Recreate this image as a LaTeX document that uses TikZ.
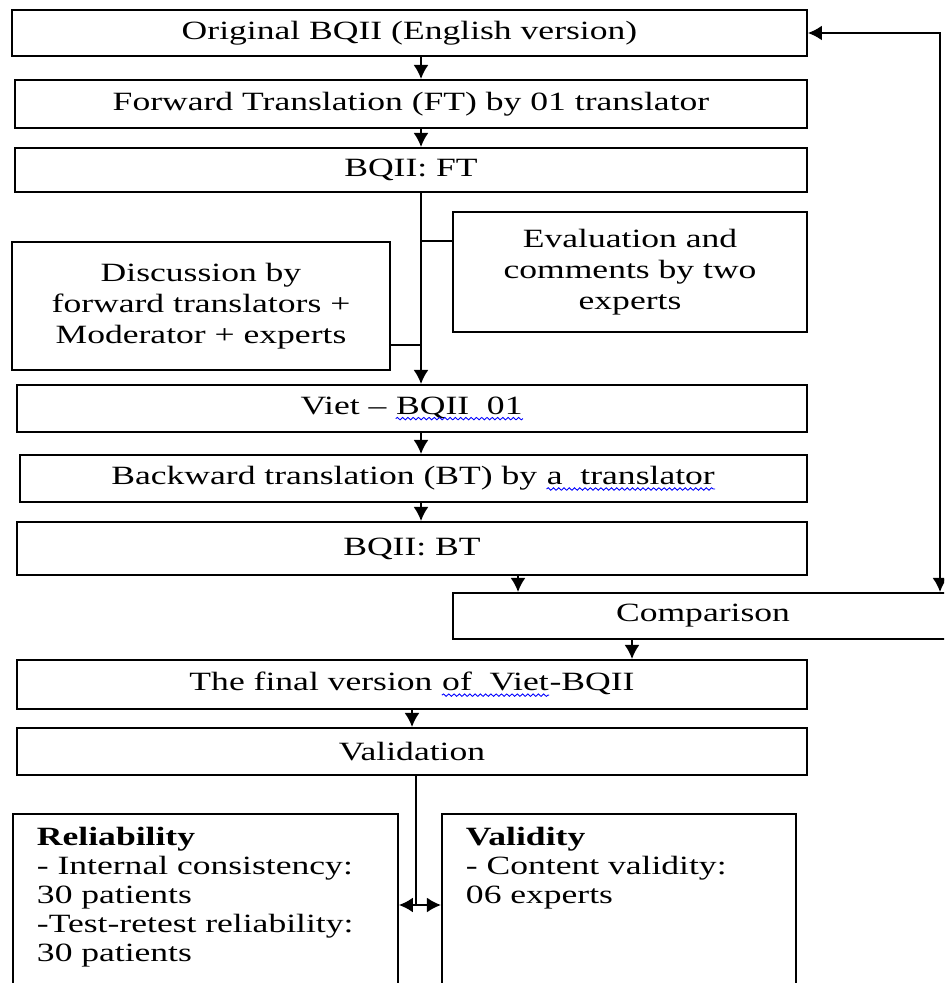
\documentclass[tikz,border=0pt]{standalone}
\usepackage{fontspec}
\setmainfont{Liberation Serif}[FakeStretch=1.35]
\usetikzlibrary{arrows.meta,calc,decorations.pathmorphing}

\begin{document}
\begin{tikzpicture}[>={Latex[length=8pt,width=8.5pt]}, x=0.02cm, y=-0.02cm]
	\tikzstyle{box}=[draw, line width=1.1pt, align=center, inner sep=0pt, font=\fontsize{15}{17.5}\selectfont]
	\tikzstyle{listbox}=[draw, line width=1.1pt, align=left, anchor=north west, inner xsep=0.48cm, inner ysep=0.26cm, text depth=3cm, font=\fontsize{15}{16.5}\selectfont]
	\tikzstyle{link}=[line width=1.1pt]

	\newcommand{\Squiggle}[1]{%
		\tikz [baseline=(sq.base)] {\node (sq) [draw=none, inner sep=0pt, minimum width=0pt, minimum height=0pt] {#1};
			\draw [blue, line width=0.5pt, decorate, decoration={snake, amplitude=0.7pt, segment length=3pt}] ([yshift=-2.5pt]sq.base west) -- ([yshift=-2.5pt]sq.base east);}%
	}

	\useasboundingbox (0,0) rectangle (944,983);
	\clip (0,0) rectangle (944,983);

	\coordinate (col) at (421,0);
	\coordinate (rcol) at (940,0);
	\coordinate (bcol) at (518,0);
	\coordinate (ccol) at (632,0);
	\coordinate (fcol) at (412,0);
	\coordinate (vcol) at (416,905);

	\node (orig) [box, minimum width=15.9cm, minimum height=0.92cm] at (409.5,33) {Original BQII (English version)};
	\node (fwd) [box, minimum width=15.84cm, minimum height=0.96cm] at (411,104) {Forward Translation (FT) by 01 translator};
	\node (ft) [box, minimum width=15.84cm, minimum height=0.88cm] at (411,170) {BQII: FT};

	\node (eval) [box, minimum width=7.08cm, minimum height=2.4cm] at (630,272) {Evaluation and\\comments by two\\experts};
	\node (disc) [box, minimum width=7.56cm, minimum height=2.56cm] at (201,306) {Discussion by\\forward translators +\\Moderator + experts};

	\node (viet) [box, minimum width=15.8cm, minimum height=0.94cm] at (412,408.5) {Viet -- \Squiggle{BQII\ \ 01}};
	\node (back) [box, minimum width=15.74cm, minimum height=0.94cm] at (413.5,478.5) {Backward translation (BT) by \Squiggle{a\ \ translator}};
	\node (bt) [box, minimum width=15.8cm, minimum height=1.06cm] at (412,548.5) {BQII: BT};
	\node (comp) [box, minimum width=10cm, minimum height=0.92cm] at (703,616) {Comparison};
	\node (final) [box, minimum width=15.8cm, minimum height=0.98cm] at (412,684.5) {The final version \Squiggle{of\ \ Viet}-BQII};
	\node (valid) [box, minimum width=15.8cm, minimum height=0.94cm] at (412,751.5) {Validation};

	\node (rel) [listbox, minimum width=7.7cm, text width=6.74cm] at (12,813) {\textbf{Reliability}\\- Internal consistency:\\30 patients\\-Test-retest reliability:\\30 patients};
	\node (vty) [listbox, minimum width=7.08cm, text width=6.12cm] at (441,813) {\textbf{Validity}\\- Content validity:\\06 experts};

	% main column
	\draw [link, ->] (orig.south -| col) -- (fwd.north -| col);
	\draw [link, ->] (fwd.south -| col) -- (ft.north -| col);
	\draw [link, ->] (ft.south -| col) -- (viet.north -| col);

	\coordinate (evj) at ($(eval.north west)+(0,30)$);
	\coordinate (dsj) at ($(disc.south east)+(0,-26)$);
	\draw [link] (evj) -- (evj -| col);
	\draw [link] (dsj) -- (dsj -| col);

	\draw [link, ->] (viet.south -| col) -- (back.north -| col);
	\draw [link, ->] (back.south -| col) -- (bt.north -| col);
	\draw [link, ->] (bt.south -| bcol) -- (comp.north -| bcol);
	\draw [link, <->] (orig.east) -| (comp.north -| rcol);
	\draw [link, ->] (comp.south -| ccol) -- (final.north -| ccol);
	\draw [link, ->] (final.south -| fcol) -- (valid.north -| fcol);

	% split to reliability / validity
	\draw [link] (valid.south -| vcol) -- (vcol);
	\draw [link, <->] (rel.east |- vcol) -- (vty.west |- vcol);
\end{tikzpicture}
\end{document}
